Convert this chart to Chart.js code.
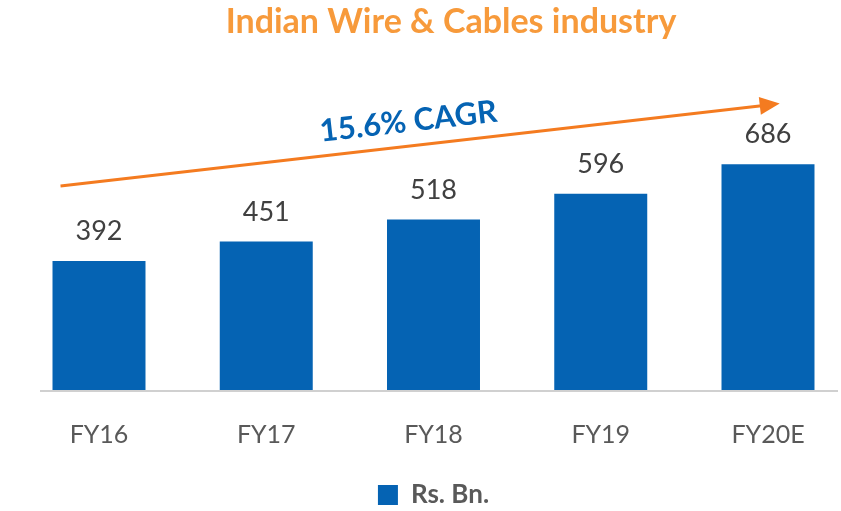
<!DOCTYPE html>
<html>
<head>
<meta charset="utf-8">
<script src="https://cdn.jsdelivr.net/npm/chart.js@4/dist/chart.umd.min.js"></script>
<style>
  html, body { margin: 0; padding: 0; background: #fff; }
  #wrap { width: 841px; height: 511px; }
</style>
</head>
<body>
<div id="wrap"><canvas id="chart-bar-cables"></canvas></div>
<script>
const years = ['FY16', 'FY17', 'FY18', 'FY19', 'FY20E'];
const values = [392, 451, 518, 596, 686];
const seriesName = 'Rs. Bn.';
const cagrLabel = '15.6% CAGR';
// arrow ends in chart units (category index, value)
const arrowFrom = [-0.23, 620];
const arrowTo = [4.07, 870];
const cagrAt = [1.85, 815];

const blue = '#0563B3';
const orange = '#F47B20';

// grey base line a bit wider than the plot area, like the original
const baseLine = {
  id: 'baseLine',
  beforeDatasetsDraw(chart) {
    const ctx = chart.ctx;
    const y = chart.scales.y.getPixelForValue(0) + 1;
    ctx.save();
    ctx.strokeStyle = '#D0D0D0';
    ctx.lineWidth = 2;
    ctx.beginPath();
    ctx.moveTo(40, y);
    ctx.lineTo(838, y);
    ctx.stroke();
    ctx.restore();
  }
};

const barValues = {
  id: 'barValues',
  afterDatasetsDraw(chart) {
    const ctx = chart.ctx;
    const meta = chart.getDatasetMeta(0);
    ctx.save();
    ctx.fillStyle = '#404040';
    ctx.font = '27px Lato';
    ctx.textAlign = 'center';
    ctx.textBaseline = 'bottom';
    meta.data.forEach((bar, i) => {
      ctx.fillText(values[i], bar.x, bar.y - 16);
    });
    ctx.restore();
  }
};

const cagrArrow = {
  id: 'cagrArrow',
  afterDraw(chart) {
    const x = chart.scales.x, y = chart.scales.y;
    const x1 = x.getPixelForValue(arrowFrom[0]), y1 = y.getPixelForValue(arrowFrom[1]);
    const x2 = x.getPixelForValue(arrowTo[0]), y2 = y.getPixelForValue(arrowTo[1]);
    const ang = Math.atan2(y2 - y1, x2 - x1);
    const ctx = chart.ctx;
    ctx.save();
    ctx.strokeStyle = orange;
    ctx.fillStyle = orange;
    ctx.lineWidth = 3;
    ctx.beginPath();
    ctx.moveTo(x1, y1);
    ctx.lineTo(x2 - 16 * Math.cos(ang), y2 - 16 * Math.sin(ang));
    ctx.stroke();
    ctx.translate(x2, y2);
    ctx.rotate(ang);
    ctx.beginPath();
    ctx.moveTo(0, 0);
    ctx.lineTo(-20, -9);
    ctx.lineTo(-20, 9);
    ctx.closePath();
    ctx.fill();
    ctx.restore();

    ctx.save();
    ctx.translate(x.getPixelForValue(cagrAt[0]), y.getPixelForValue(cagrAt[1]));
    ctx.rotate(ang);
    ctx.fillStyle = blue;
    ctx.font = 'bold 31px Lato';
    ctx.textAlign = 'center';
    ctx.textBaseline = 'middle';
    ctx.fillText(cagrLabel, 0, 0);
    ctx.restore();
  }
};

// invisible side axes, only there to reserve room beside the bars
const spacer = (w) => ({
  display: true,
  grid: { display: false, drawTicks: false },
  border: { display: false },
  ticks: { display: false },
  afterFit(scale) { scale.width = w; }
});

new Chart(document.getElementById('chart-bar-cables'), {
  type: 'bar',
  data: {
    labels: years,
    datasets: [{
      label: seriesName,
      data: values,
      backgroundColor: blue,
      borderWidth: 0,
      barPercentage: 1,
      categoryPercentage: 0.556,
      clip: false
    }]
  },
  options: {
    responsive: true,
    maintainAspectRatio: false,
    animation: false,
    layout: {
      padding: { left: 61, right: 0, top: 0, bottom: -7 }
    },
    plugins: {
      title: {
        display: true,
        text: 'Indian Wire & Cables industry',
        color: '#F79A3B',
        font: { size: 34, weight: 'bold', family: 'Lato' },
        padding: { top: 2, bottom: 18 }
      },
      legend: {
        display: true,
        position: 'bottom',
        fullSize: false,
        labels: {
          boxWidth: 20,
          boxHeight: 20,
          color: '#595959',
          font: { size: 26, weight: 'bold', family: 'Lato' },
          padding: 2
        }
      },
      tooltip: { enabled: false }
    },
    scales: {
      x: {
        offset: false,
        grid: { display: false, drawTicks: false },
        border: { display: false },
        ticks: {
          color: '#595959',
          padding: 30,
          font: { size: 25, family: 'Lato' }
        }
      },
      y: Object.assign(spacer(38), { position: 'left', min: 0, max: 1000 }),
      yRight: Object.assign(spacer(73), { position: 'right' })
    }
  },
  plugins: [baseLine, barValues, cagrArrow]
});
</script>
</body>
</html>
